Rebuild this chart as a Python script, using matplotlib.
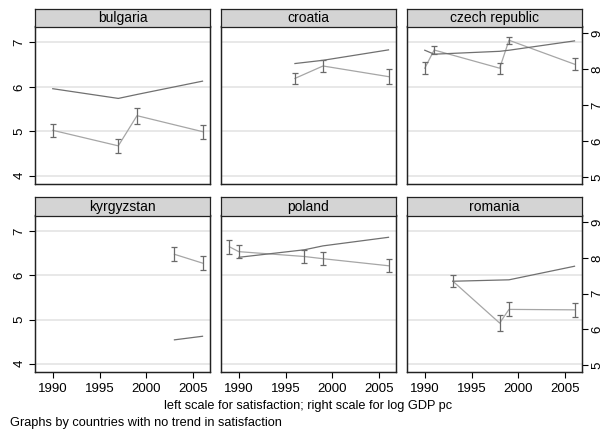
import matplotlib.pyplot as plt

plt.rcParams['font.family'] = ['Liberation Sans', 'DejaVu Sans']

countries = ["bulgaria", "croatia", "czech republic", "kyrgyzstan", "poland", "romania"]

# satisfaction (left scale): years, means, half-width of error bars
bulgaria_years = [1990, 1997, 1999, 2006]
bulgaria_sat = [5.02, 4.67, 5.35, 4.99]
bulgaria_err = [0.15, 0.15, 0.18, 0.16]
croatia_years = [1996, 1999, 2006]
croatia_sat = [6.19, 6.47, 6.23]
croatia_err = [0.13, 0.13, 0.17]
czech_years = [1990, 1991, 1998, 1999, 2006]
czech_sat = [6.42, 6.83, 6.42, 7.05, 6.51]
czech_err = [0.135, 0.10, 0.12, 0.08, 0.14]
kyrgyz_years = [2003, 2006]
kyrgyz_sat = [6.48, 6.28]
kyrgyz_err = [0.16, 0.15]
poland_years = [1989, 1990, 1997, 1999, 2006]
poland_sat = [6.65, 6.54, 6.43, 6.38, 6.22]
poland_err = [0.155, 0.14, 0.14, 0.15, 0.15]
romania_years = [1993, 1998, 1999, 2006]
romania_sat = [5.87, 4.92, 5.23, 5.22]
romania_err = [0.14, 0.18, 0.16, 0.16]

# log GDP per capita (right scale)
bulgaria_gdp_years = [1990, 1997, 1999, 2006]
bulgaria_gdp = [7.46, 7.19, 7.30, 7.67]
croatia_gdp_years = [1996, 1999, 2006]
croatia_gdp = [8.16, 8.25, 8.54]
czech_gdp_years = [1990, 1991, 1998, 1999, 2006]
czech_gdp = [8.53, 8.42, 8.50, 8.53, 8.79]
kyrgyz_gdp_years = [2003, 2006]
kyrgyz_gdp = [5.71, 5.81]
poland_gdp_years = [1990, 1997, 1999, 2006]
poland_gdp = [8.02, 8.23, 8.34, 8.58]
romania_gdp_years = [1993, 1999, 2006]
romania_gdp = [7.35, 7.39, 7.77]

sat_data = [(bulgaria_years, bulgaria_sat, bulgaria_err),
            (croatia_years, croatia_sat, croatia_err),
            (czech_years, czech_sat, czech_err),
            (kyrgyz_years, kyrgyz_sat, kyrgyz_err),
            (poland_years, poland_sat, poland_err),
            (romania_years, romania_sat, romania_err)]
gdp_data = [(bulgaria_gdp_years, bulgaria_gdp),
            (croatia_gdp_years, croatia_gdp),
            (czech_gdp_years, czech_gdp),
            (kyrgyz_gdp_years, kyrgyz_gdp),
            (poland_gdp_years, poland_gdp),
            (romania_gdp_years, romania_gdp)]

left_ticks = [4, 5, 6, 7]
right_ticks = [5, 6, 7, 8, 9]
x_ticks = [1990, 1995, 2000, 2005]

W, H = 603, 434
fig = plt.figure(figsize=(W / 100, H / 100), dpi=100)

col_x = [35, 221, 407]
panel_w = 175
rows = [(26.5, 184), (215.5, 372)]
header_h = 18

for i, name in enumerate(countries):
    r, c = divmod(i, 3)
    top, bottom = rows[r]
    rect = [col_x[c] / W, 1 - bottom / H, panel_w / W, (bottom - top) / H]
    ax = fig.add_axes(rect)
    ax2 = ax.twinx()

    ax.set_xlim(1988.1, 2006.8)
    ax.set_ylim(3.81, 7.36)
    ax2.set_ylim(4.81, 9.19)

    for g in left_ticks:
        ax.axhline(g, color="#e6e6e6", lw=1.3, zorder=0)

    yrs, sat, err = sat_data[i]
    ax.plot(yrs, sat, color="#a6a6a6", lw=0.9, zorder=2)
    ax.errorbar(yrs, sat, yerr=err, fmt="none", ecolor="#6a6a6a",
                elinewidth=0.9, capsize=2.4, capthick=0.9, zorder=3)
    gy, gv = gdp_data[i]
    ax2.plot(gy, gv, color="#707070", lw=0.9)

    for a in (ax, ax2):
        for s in a.spines.values():
            s.set_color("#222222")
            s.set_linewidth(0.9)

    ax.set_xticks(x_ticks)
    if r == 1:
        ax.set_xticklabels([str(t) for t in x_ticks], fontsize=9.5)
        ax.tick_params(axis="x", length=4, width=0.8, pad=4)
    else:
        ax.tick_params(axis="x", length=0, labelbottom=False)

    ax.set_yticks(left_ticks)
    if c == 0:
        ax.set_yticklabels([str(t) for t in left_ticks], fontsize=9.5,
                           rotation=90, va="center")
        ax.tick_params(axis="y", length=4, width=0.8, pad=3)
    else:
        ax.tick_params(axis="y", length=0, labelleft=False)

    ax2.set_yticks(right_ticks)
    if c == 2:
        ax2.set_yticklabels([str(t) for t in right_ticks], fontsize=9.5,
                            rotation=90, va="center")
        ax2.tick_params(axis="y", length=4, width=0.8, pad=3)
    else:
        ax2.tick_params(axis="y", length=0, labelright=False)

    hax = fig.add_axes([col_x[c] / W, 1 - top / H, panel_w / W, header_h / H])
    hax.set_facecolor("#d4d4d4")
    hax.set_xticks([])
    hax.set_yticks([])
    for s in hax.spines.values():
        s.set_color("#222222")
        s.set_linewidth(0.9)
    hax.text(0.5, 0.45, name, ha="center", va="center", fontsize=10,
             transform=hax.transAxes)

fig.text(308 / W, 1 - 406 / H, "left scale for satisfaction; right scale for log GDP pc",
         ha="center", va="center", fontsize=9.2)
fig.text(10 / W, 1 - 423 / H, "Graphs by countries with no trend in satisfaction",
         ha="left", va="center", fontsize=9.2)

fig.savefig("out.png", dpi=100)
